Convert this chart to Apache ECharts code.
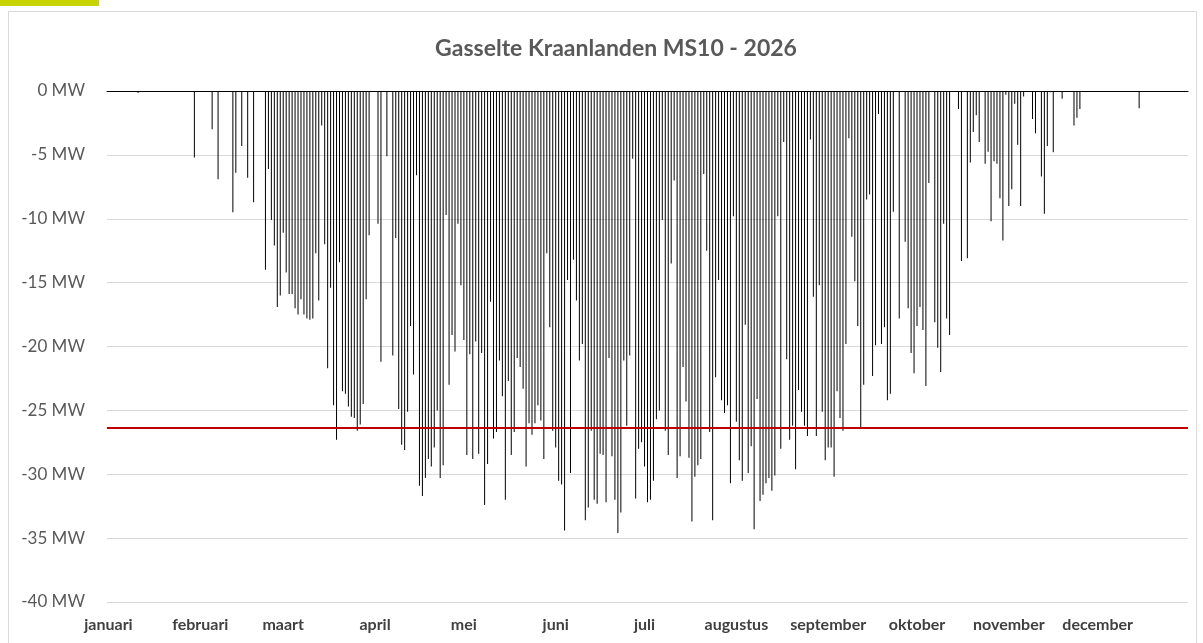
<!DOCTYPE html>
<html>
<head>
<meta charset="utf-8">
<script src="https://cdn.jsdelivr.net/npm/echarts@6/dist/echarts.min.js"></script>
<style>
  html, body { margin: 0; padding: 0; background: #fff; }
  #chart { width: 1203px; height: 643px; }
</style>
</head>
<body>
<div id="chart"></div>
<script>
// maanden en dagwaarden (MW, negatief = teruglevering)
const monthNames = ['januari', 'februari', 'maart', 'april', 'mei', 'juni', 'juli', 'augustus', 'september', 'oktober', 'november', 'december'];

const jan = [0, 0, 0, 0, 0, 0, 0, 0, 0, 0, -0.15, 0, 0, 0, 0, 0, 0, 0, 0, 0, 0, 0, 0, 0, 0, 0, 0, 0, 0, -5.2, 0];
const feb = [0, 0, 0, 0, -3.0, 0, -6.9, 0, 0, 0, 0, -9.5, -6.4, 0, -4.3, 0, -6.8, 0, -8.7, 0, 0, 0, -14.0, -6.1, -10.1, -12.1, -16.9, -16.0];
const mar = [-11.1, -14.2, -15.9, -15.9, -17.0, -17.5, -16.3, -17.5, -17.8, -17.9, -17.8, -12.7, -16.4, -2.7, -12.0, -21.7, -15.4, -24.6, -27.3, -13.4, -23.5, -23.7, -24.7, -25.5, -25.6, -26.6, -26.1, -24.5, -16.3, -11.3, 0];
const apr = [0, -10.4, -21.2, 0, -5.1, 0, -20.7, -11.5, -24.9, -27.7, -28.1, -25.1, -18.4, -22.2, -6.6, -30.9, -31.7, -30.3, -28.8, -29.4, -27.9, -25.0, -30.3, -29.3, -9.7, -23.0, -19.1, -20.4, -10.4, -15.2];
const may = [-19.5, -28.5, -20.6, -28.8, -19.6, -28.4, -20.5, -32.4, -29.2, -16.5, -27.2, -26.7, -21.1, -23.9, -32.0, -22.7, -28.5, -26.7, -20.9, -21.6, -23.3, -29.4, -26.0, -26.9, -26.0, -24.6, -25.8, -28.8, -12.7, -18.5, -26.6];
const jun = [-27.9, -30.5, -30.8, -34.4, -14.8, -29.9, -13.2, -16.4, -21.1, -19.8, -33.6, -32.6, -26.6, -32.0, -32.3, -28.4, -28.5, -32.2, -20.9, -28.6, -32.0, -34.6, -33.0, -21.1, -26.2, -20.7, -5.3, -31.9, -28.0, -27.5];
const jul = [-29.4, -32.2, -32.0, -30.5, -25.7, -25.0, -10.1, -26.6, -28.5, -13.5, -7.0, -30.3, -28.6, -21.6, -24.3, -28.7, -33.7, -30.2, -29.3, -28.8, -6.5, -12.5, -26.7, -33.6, -22.4, -14.8, -24.2, -25.2, -24.6, -30.7, -9.8];
const aug = [-25.9, -28.9, -30.5, -18.3, -29.9, -27.8, -34.3, -24.1, -32.1, -31.6, -30.7, -30.3, -31.3, -30.1, -9.8, -28.0, -4.0, -21.0, -27.3, -26.2, -29.6, -23.4, -25.1, -26.2, -27.0, -3.8, -16.1, -27.0, -15.2, -25.1, -28.9];
const sep = [-27.9, -27.9, -30.2, -23.5, -25.6, -26.6, -19.8, -3.7, -11.4, -14.9, -18.4, -26.3, -23.0, -8.5, -8.1, -22.3, -19.9, -1.8, -19.8, -18.5, -24.2, -23.7, -9.45, 0, -17.8, 0, -11.8, -17.0, -20.5, -22.1];
const oct = [-18.4, -16.9, -18.7, -23.1, -7.2, 0, -18.1, -20.1, -22.0, -10.4, -17.8, -19.1, 0, 0, -1.4, -13.3, 0, -13.1, -5.6, -3.2, -1.9, -4.0, 0, -5.7, -4.75, -10.2, -5.5, -5.7, -8.4, -11.7, -0.3];
const nov = [-9.0, -7.7, -1.0, -4.2, -9.0, -0.44, 0, 0, -2.2, -3.3, 0, -6.7, -9.6, -4.3, -0.1, -4.8, 0, 0, -0.6, 0, 0, 0, -2.7, -2.1, -1.4, 0, 0, 0, 0, 0];
const dec = [0, 0, 0, 0, 0, 0, 0, 0, 0, 0, 0, 0, 0, 0, -1.36, 0, 0, 0, 0, 0, 0, 0, 0, 0, 0, 0, 0, 0, 0, 0, 0];

// grens (rode lijn)
const limitMW = -26.35;

const months = [jan, feb, mar, apr, may, jun, jul, aug, sep, oct, nov, dec];
const categories = [];
const monthStarts = [];
const values = [];
months.forEach((m, mi) => {
  monthStarts.push(categories.length);
  m.forEach((v, di) => {
    categories.push((di + 1) + ' ' + monthNames[mi]);
    values.push(v);
  });
});

const myChart = echarts.init(document.getElementById('chart'));
const option = {
  animation: false,
  title: {
    text: 'Gasselte Kraanlanden MS10 - 2026',
    left: 611,
    textAlign: 'center',
    top: 32,
    textStyle: { fontFamily: 'Lato', fontSize: 23, fontWeight: 'bold', color: '#595959' }
  },
  grid: { left: 107, right: 15, top: 91, bottom: 41 },
  xAxis: [
    {
      type: 'category',
      data: categories,
      position: 'bottom',
      axisLine: { show: false },
      axisTick: { show: false },
      axisLabel: {
        interval: (i) => monthStarts.includes(i),
        formatter: (v, i) => monthNames[monthStarts.indexOf(i)],
        margin: 15,
        fontFamily: 'Lato',
        fontSize: 16,
        fontWeight: 'bold',
        color: '#404040'
      }
    },
    {
      type: 'category',
      data: categories,
      position: 'top',
      axisLine: { lineStyle: { color: '#000', width: 1 } },
      axisTick: {
        inside: true,
        length: 4,
        interval: (i) => monthStarts.includes(i),
        lineStyle: { color: '#d9d9d9' }
      },
      axisLabel: { show: false }
    }
  ],
  yAxis: {
    type: 'value',
    min: -40,
    max: 0,
    interval: 5,
    axisLine: { show: false },
    axisTick: { show: false },
    axisLabel: {
      formatter: (v) => v + ' MW',
      fontFamily: 'Lato',
      fontSize: 17,
      color: '#595959',
      margin: 22
    },
    splitLine: { lineStyle: { color: '#d9d9d9', width: 1 } }
  },
  series: [
    {
      type: 'bar',
      data: values,
      barWidth: 1,
      itemStyle: { color: '#000' },
      markLine: {
        silent: true,
        symbol: 'none',
        label: { show: false },
        lineStyle: { color: '#c00000', width: 2, type: 'solid' },
        data: [{ yAxis: limitMW }]
      }
    }
  ],
  graphic: [
    { type: 'rect', shape: { x: 0, y: 0, width: 99, height: 6 }, style: { fill: '#c8d400' } },
    { type: 'rect', shape: { x: 8.5, y: 11.5, width: 1188, height: 640 }, style: { fill: 'none', stroke: '#d9d9d9', lineWidth: 1 } }
  ]
};
myChart.setOption(option);
</script>
</body>
</html>
